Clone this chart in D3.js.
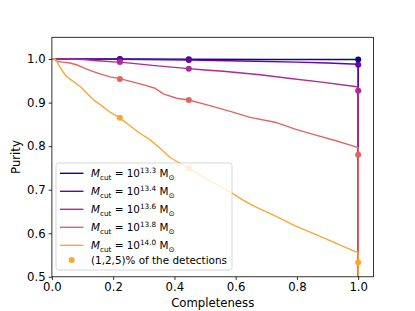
<!DOCTYPE html>
<html><head><meta charset="utf-8">
<script src="https://cdn.jsdelivr.net/npm/d3@7"></script>
<style>body{margin:0;background:#fff}svg{display:block}text{font-family:"DejaVu Sans",sans-serif;fill:#000}</style>
</head><body><svg id="c" width="415" height="311"></svg>
<script>
const masses = ["13.3","13.4","13.6","13.8","14.0"];
const colors = ["#0d0887","#6a00a8","#b12a90","#e16462","#fca636"];
const xTicks = [0,0.2,0.4,0.6,0.8,1.0];
const yTicks = [0.5,0.6,0.7,0.8,0.9,1.0];

const comp133 = [0,0.1,0.222,0.447,0.7,1.0,1.0];
const pur133  = [1.0,1.0,1.0,0.9995,0.999,0.999,0.5];
const comp134 = [0,0.1,0.222,0.447,0.663,0.8,0.9,1.0,1.0];
const pur134  = [1.0,0.9998,0.9995,0.998,0.995,0.993,0.991,0.988,0.5];
const comp136 = [0,0.05,0.102,0.15,0.211,0.222,0.28,0.337,0.40,0.447,0.5,0.56,0.62,0.68,0.772,0.881,0.99,1.0,1.0];
const pur136  = [1.0,1.0,0.999,0.996,0.993,0.993,0.989,0.985,0.981,0.978,0.975,0.972,0.968,0.964,0.956,0.947,0.937,0.936,0.5];
const comp138 = [0,0.01,0.015,0.035,0.059,0.08,0.097,0.124,0.157,0.19,0.222,0.266,0.309,0.337,0.364,0.407,0.447,0.516,0.582,0.647,0.729,0.794,0.859,0.925,0.99,1.0,1.0];
const pur138  = [1.0,1.0,0.995,0.993,0.991,0.987,0.982,0.974,0.966,0.959,0.955,0.947,0.939,0.933,0.920,0.910,0.906,0.893,0.880,0.866,0.855,0.839,0.826,0.813,0.799,0.797,0.5];
const comp140 = [0,0.011,0.018,0.026,0.037,0.048,0.075,0.097,0.113,0.135,0.162,0.19,0.222,0.255,0.282,0.32,0.353,0.386,0.447,0.516,0.582,0.62,0.663,0.729,0.794,0.859,0.925,0.99,1.0,1.0];
const pur140  = [1.0,1.0,0.992,0.982,0.970,0.960,0.946,0.934,0.922,0.907,0.893,0.878,0.865,0.847,0.832,0.815,0.795,0.774,0.749,0.720,0.695,0.678,0.661,0.640,0.617,0.598,0.578,0.558,0.556,0.5];

const dotComp = [0.222,0.447,1.0];
const dotPur133 = [1.0,0.9995,0.999];
const dotPur134 = [0.9995,0.998,0.987];
const dotPur136 = [0.993,0.978,0.927];
const dotPur138 = [0.954,0.906,0.780];
const dotPur140 = [0.865,0.749,0.533];

const comps = [comp133,comp134,comp136,comp138,comp140];
const purs = [pur133,pur134,pur136,pur138,pur140];
const dotPurs = [dotPur133,dotPur134,dotPur136,dotPur138,dotPur140];

const L=51.9,R=373.5,T=37.3,B=276.8;
const x=d3.scaleLinear().domain([0,1.05]).range([L,R]);
const y=d3.scaleLinear().domain([0.5,1.05]).range([B,T]);
const svg=d3.select("#c");
svg.append("clipPath").attr("id","clip").append("rect").attr("x",L).attr("y",T).attr("width",R-L).attr("height",B-T);
const plot=svg.append("g").attr("clip-path","url(#clip)");
const line=d3.line().x(d=>x(d[0])).y(d=>y(d[1]));
for(let i=0;i<5;i++){
  const pts=comps[i].map((c,j)=>[c,purs[i][j]]);
  plot.append("path").attr("d",line(pts)).attr("fill","none").attr("stroke",colors[i]).attr("stroke-width",1.4).attr("stroke-linejoin","round");
  plot.selectAll(null).data(dotComp.map((c,j)=>[c,dotPurs[i][j]])).enter().append("circle")
    .attr("cx",d=>x(d[0])).attr("cy",d=>y(d[1])).attr("r",3).attr("fill",colors[i]);
}
// axes
const fs=11.7;
const xa=svg.append("g").attr("transform",`translate(0,${B})`).call(d3.axisBottom(x).tickValues(xTicks).tickFormat(d3.format(".1f")).tickSize(3.2).tickPadding(3));
const ya=svg.append("g").attr("transform",`translate(${L},0)`).call(d3.axisLeft(y).tickValues(yTicks).tickFormat(d3.format(".1f")).tickSize(3.2).tickPadding(3));
[xa,ya].forEach(a=>{a.select(".domain").remove();a.selectAll("text").style("font-size",fs+"px").style("font-family","DejaVu Sans");a.selectAll("line").attr("stroke","#000").attr("stroke-width",0.8);});
svg.append("rect").attr("x",L).attr("y",T).attr("width",R-L).attr("height",B-T).attr("fill","none").attr("stroke","#000").attr("stroke-width",0.8);
svg.append("text").attr("x",(L+R)/2).attr("y",307).attr("text-anchor","middle").style("font-size",fs+"px").text("Completeness");
svg.append("text").attr("transform",`translate(20,${(T+B)/2}) rotate(-90)`).attr("text-anchor","middle").style("font-size",fs+"px").text("Purity");
// legend
const lg=svg.append("g");
lg.append("rect").attr("x",56).attr("y",163).attr("width",176).attr("height",107).attr("rx",2.5)
  .attr("fill","#fff").attr("fill-opacity",0.8).attr("stroke","#cccccc").attr("stroke-width",0.8);
const lfs=10.4;
masses.forEach((m,i)=>{
  const yy=173.3+i*18;
  lg.append("line").attr("x1",60).attr("x2",83.5).attr("y1",yy).attr("y2",yy).attr("stroke",colors[i]).attr("stroke-width",1.4);
  const t=lg.append("text").attr("x",91).attr("y",yy+4).style("font-size",lfs+"px");
  t.append("tspan").attr("font-style","italic").text("M");
  t.append("tspan").attr("dy",2.5).style("font-size",(lfs*0.7)+"px").text("cut");
  t.append("tspan").attr("dy",-2.5).text(" = 10");
  t.append("tspan").attr("dy",-4.5).style("font-size",(lfs*0.7)+"px").text(m);
  t.append("tspan").attr("dy",4.5).text(" M");
  t.append("tspan").attr("dy",2.5).style("font-size",(lfs*0.7)+"px").text("\u2299");
});
lg.append("circle").attr("cx",71.7).attr("cy",260).attr("r",3).attr("fill",colors[4]);
lg.append("text").attr("x",91).attr("y",264).style("font-size",lfs+"px").text("(1,2,5)% of the detections");
</script></body></html>
